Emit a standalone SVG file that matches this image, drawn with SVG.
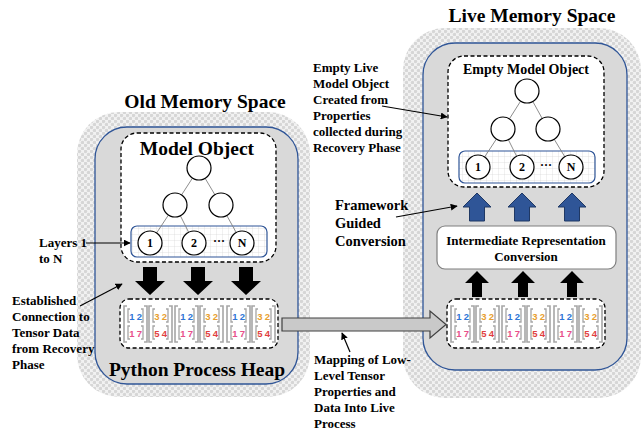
<svg xmlns="http://www.w3.org/2000/svg" xmlns:xlink="http://www.w3.org/1999/xlink" width="644" height="430" viewBox="0 0 644 430">
<style>
.title{font-family:"Liberation Serif",serif;font-weight:bold;fill:#000}
.lbl{font-family:"Liberation Serif",serif;font-weight:bold;font-size:13px;fill:#000}
.num{font-family:"Liberation Serif",serif;font-weight:bold;font-size:12px;text-anchor:middle}
.tn{font-family:"Liberation Sans",sans-serif;font-weight:bold;font-size:9.5px;text-anchor:middle}
.circ{fill:#fff;stroke:#000;stroke-width:1.2}
.edge{stroke:#808080;stroke-width:0.9;fill:none}
.dash{fill:#fff;stroke:#000;stroke-width:1.3;stroke-dasharray:4 2.5}
.panel{fill:#d9d9d9;stroke:#2f5597;stroke-width:1.3}
.hatch{fill:url(#hatch)}
.bar{fill:url(#grid);stroke:#2f5597;stroke-width:1.2}
.br{fill:none;stroke:#a6a6a6;stroke-width:1.6}
.bri{fill:none;stroke:#a6a6a6;stroke-width:1.3}
.conn{stroke:#000;stroke-width:1.2;fill:none;marker-end:url(#ah)}
.blk{fill:#000}
.blue{fill:#2f5597;stroke:#1f3864;stroke-width:1}
</style>
<defs>
<pattern id="hatch" width="6" height="6" patternUnits="userSpaceOnUse">
<rect width="6" height="6" fill="#f2f2f2"/>
<circle cx="1.5" cy="1.5" r="1.7" fill="#d6d6d6"/>
<circle cx="4.5" cy="4.5" r="1.7" fill="#d6d6d6"/>
</pattern>
<pattern id="grid" width="6" height="6" patternUnits="userSpaceOnUse">
<rect width="6" height="6" fill="#fff"/>
<path d="M0,0 H6 M0,0 V6" stroke="#cfcfcf" stroke-width="0.6"/>
</pattern>
<marker id="ah" viewBox="0 0 10 10" refX="9" refY="5" markerWidth="7" markerHeight="7" orient="auto" markerUnits="userSpaceOnUse">
<path d="M0,0 L10,5 L0,10 z" fill="#000"/>
</marker>
<g id="tg">
<path class="br" d="M3,0 H0 V36 H3"/>
<path class="br" d="M20,0 H23 V36 H20"/>
<path class="br" d="M28,0 H25 V36 H28"/>
<path class="br" d="M45,0 H48 V36 H45"/>
<path class="bri" d="M6,3 H4 V16 H6 M17,3 H19 V16 H17"/>
<path class="bri" d="M6,20 H4 V33 H6 M17,20 H19 V33 H17"/>
<path class="bri" d="M31,3 H29 V16 H31 M42,3 H44 V16 H42"/>
<path class="bri" d="M31,20 H29 V33 H31 M42,20 H44 V33 H42"/>
<text class="tn" x="8" y="13.5" fill="#2e75d6">1</text>
<text class="tn" x="15.5" y="13.5" fill="#2e75d6">2</text>
<text class="tn" x="33" y="13.5" fill="#e8a030">3</text>
<text class="tn" x="40.5" y="13.5" fill="#e8a030">2</text>
<text class="tn" x="8" y="30.5" fill="#e8508a">1</text>
<text class="tn" x="15.5" y="30.5" fill="#e8508a">7</text>
<text class="tn" x="33" y="30.5" fill="#e04040">5</text>
<text class="tn" x="40.5" y="30.5" fill="#e04040">4</text>
</g>
</defs>
<rect width="644" height="430" fill="#fff"/>

<g id="old-space">
<rect class="hatch" x="77" y="112" width="233" height="285" rx="42"/>
<rect class="panel" x="95" y="127" width="203" height="257" rx="32"/>
<text class="title" x="205" y="108" font-size="19.5" text-anchor="middle">Old Memory Space</text>
<text class="title" x="197" y="376" font-size="19.5" text-anchor="middle">Python Process Heap</text>
</g>

<g id="model-object">
<rect class="dash" x="121" y="133" width="155" height="129" rx="16"/>
<text class="title" x="197" y="155" font-size="19.5" text-anchor="middle">Model Object</text>
<rect class="bar" x="131" y="226" width="136" height="31" rx="6"/>
<path class="edge" d="M199,168 L175,205 M199,168 L221,205 M175,205 L150,243 M175,205 L194,243 M221,205 L242,243"/>
<circle class="circ" cx="199" cy="168" r="12"/>
<circle class="circ" cx="175" cy="205" r="12"/>
<circle class="circ" cx="221" cy="205" r="12"/>
<circle class="circ" cx="150" cy="243" r="12"/>
<circle class="circ" cx="194" cy="243" r="12"/>
<circle class="circ" cx="242" cy="243" r="12"/>
<text class="num" x="150" y="247">1</text>
<text class="num" x="194" y="247">2</text>
<text class="num" x="242" y="247">N</text>
<text class="num" x="219" y="245">···</text>
</g>

<g id="old-tensors">
<rect class="dash" x="120" y="299" width="158" height="49" rx="9"/>
<use xlink:href="#tg" x="124" y="306"/>
<use xlink:href="#tg" x="175" y="306"/>
<use xlink:href="#tg" x="227" y="306"/>
</g>

<g id="live-space">
<rect class="hatch" x="403" y="28" width="238" height="370" rx="42"/>
<rect class="panel" x="423" y="43" width="204" height="327" rx="32"/>
<text class="title" x="532" y="22" font-size="19.5" text-anchor="middle">Live Memory Space</text>
</g>

<g id="empty-model-object">
<rect class="dash" x="448" y="56" width="156" height="131" rx="16"/>
<text class="title" x="526" y="74" font-size="14" text-anchor="middle">Empty Model Object</text>
<rect class="bar" x="459" y="151" width="136" height="32" rx="6"/>
<path class="edge" d="M527,91 L503,129 M527,91 L548,129 M503,129 L478,167 M503,129 L522,167 M548,129 L571,167"/>
<circle class="circ" cx="527" cy="91" r="12"/>
<circle class="circ" cx="503" cy="129" r="12"/>
<circle class="circ" cx="548" cy="129" r="12"/>
<circle class="circ" cx="478" cy="167" r="12"/>
<circle class="circ" cx="522" cy="167" r="12"/>
<circle class="circ" cx="571" cy="167" r="12"/>
<text class="num" x="478" y="171">1</text>
<text class="num" x="522" y="171">2</text>
<text class="num" x="571" y="171">N</text>
<text class="num" x="546" y="169">···</text>
</g>

<g id="ir-conversion">
<rect x="437" y="226" width="179" height="43" rx="8" fill="#fff" stroke="#7f7f7f" stroke-width="1.2"/>
<text class="lbl" x="526" y="245" text-anchor="middle">Intermediate Representation</text>
<text class="lbl" x="526" y="261" text-anchor="middle">Conversion</text>
</g>

<g id="live-tensors">
<rect class="dash" x="447" y="299" width="158" height="49" rx="9"/>
<use xlink:href="#tg" x="451" y="306"/>
<use xlink:href="#tg" x="502" y="306"/>
<use xlink:href="#tg" x="554" y="306"/>
</g>

<g id="labels">
<text class="lbl" x="39" y="247">Layers 1</text>
<text class="lbl" x="39" y="263">to N</text>
<text class="lbl"><tspan x="12" y="305">Established</tspan><tspan x="12" y="321">Connection to</tspan><tspan x="12" y="337">Tensor Data</tspan><tspan x="12" y="353">from Recovery</tspan><tspan x="12" y="369">Phase</tspan></text>
<text class="lbl"><tspan x="313" y="72">Empty Live</tspan><tspan x="313" y="88">Model Object</tspan><tspan x="313" y="104">Created from</tspan><tspan x="313" y="120">Properties</tspan><tspan x="313" y="136">collected during</tspan><tspan x="313" y="152">Recovery Phase</tspan></text>
<text class="lbl" style="font-size:14.5px"><tspan x="335" y="210">Framework</tspan><tspan x="335" y="228">Guided</tspan><tspan x="335" y="246">Conversion</tspan></text>
<text class="lbl"><tspan x="314" y="364">Mapping of Low-</tspan><tspan x="314" y="380">Level Tensor</tspan><tspan x="314" y="396">Properties and</tspan><tspan x="314" y="412">Data Into Live</tspan><tspan x="314" y="428">Process</tspan></text>
</g>

<g id="connectors">
<polygon class="blk" points="143,267 157,267 157,281 165,281 150,295 135,281 143,281"/>
<polygon class="blk" points="191,267 205,267 205,281 213,281 198,295 183,281 191,281"/>
<polygon class="blk" points="239,267 253,267 253,281 261,281 246,295 231,281 239,281"/>
<polygon class="blk" points="472,297 482,297 482,283 489,283 477,271 465,283 472,283"/>
<polygon class="blk" points="518,297 528,297 528,283 535,283 523,271 511,283 518,283"/>
<polygon class="blk" points="567,297 577,297 577,283 584,283 572,271 560,283 567,283"/>
<polygon class="blue" points="469.5,221 484.5,221 484.5,207 491,207 477,193 463,207 469.5,207"/>
<polygon class="blue" points="514.5,221 529.5,221 529.5,207 536,207 522,193 508,207 514.5,207"/>
<polygon class="blue" points="564.5,221 579.5,221 579.5,207 586,207 572,193 558,207 564.5,207"/>
<polygon points="282,318 430,318 430,311 446,324.5 430,338 430,331 282,331" fill="#c9c9c9" stroke="#404040" stroke-width="1.2"/>
<line class="conn" x1="86" y1="243" x2="130" y2="243"/>
<line class="conn" x1="80" y1="306" x2="122" y2="284"/>
<line class="conn" x1="382" y1="106" x2="447" y2="117"/>
<line class="conn" x1="396" y1="217" x2="457" y2="206"/>
<line class="conn" x1="350" y1="352" x2="342" y2="333"/>
</g>
</svg>
